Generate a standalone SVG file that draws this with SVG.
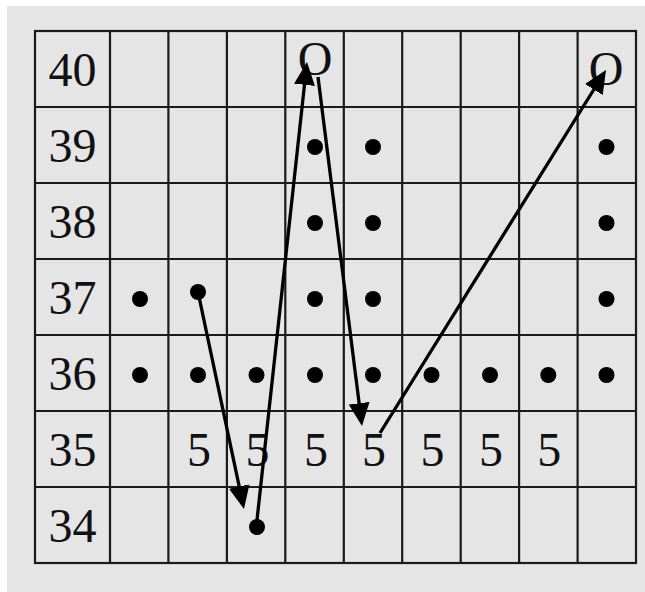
<svg xmlns="http://www.w3.org/2000/svg" width="645" height="592" viewBox="0 0 645 592">
<style>
.grid{stroke:#1a1a1a;stroke-width:2.2;fill:none}
.t{font-family:"Liberation Serif","Times New Roman",serif;font-size:48px;fill:#111;text-anchor:middle}
.dot{fill:#000}
.arr{stroke:#000;stroke-width:3.3;fill:none;marker-end:url(#ah)}
</style>
<defs>
<marker id="ah" markerUnits="userSpaceOnUse" viewBox="0 0 23 21" markerWidth="23" markerHeight="21" refX="13" refY="10.5" orient="auto">
<path d="M0,0 L23,10.5 L0,21 z" fill="#000"/>
</marker>
</defs>
<rect x="7" y="6" width="638" height="586" fill="#e5e5e5"/>
<g id="grid" class="grid">
<rect x="35" y="31" width="601" height="532"/>
<path d="M110,31V563 M168.4,31V563 M226.9,31V563 M285.3,31V563 M343.8,31V563 M402.2,31V563 M460.7,31V563 M519.1,31V563 M577.6,31V563"/>
<path d="M35,107H636 M35,183H636 M35,259H636 M35,335H636 M35,411H636 M35,487H636"/>
</g>
<g id="row-labels">
<text class="t" x="72.5" y="86">40</text>
<text class="t" x="72.5" y="162">39</text>
<text class="t" x="72.5" y="238">38</text>
<text class="t" x="72.5" y="314">37</text>
<text class="t" x="72.5" y="390">36</text>
<text class="t" x="72.5" y="466">35</text>
<text class="t" x="72.5" y="542">34</text>
</g>
<g id="row40">
<text class="t" x="315" y="75">O</text>
<text class="t" x="606" y="85">O</text>
</g>
<g id="row39">
<circle class="dot" cx="315" cy="147" r="8"/>
<circle class="dot" cx="373" cy="147" r="8"/>
<circle class="dot" cx="606.5" cy="147" r="8"/>
</g>
<g id="row38">
<circle class="dot" cx="315" cy="223" r="8"/>
<circle class="dot" cx="373" cy="223" r="8"/>
<circle class="dot" cx="606.5" cy="223" r="8"/>
</g>
<g id="row37">
<circle class="dot" cx="140" cy="299" r="8"/>
<circle class="dot" cx="198" cy="292" r="8"/>
<circle class="dot" cx="315" cy="299" r="8"/>
<circle class="dot" cx="373" cy="299" r="8"/>
<circle class="dot" cx="606.5" cy="299" r="8"/>
</g>
<g id="row36">
<circle class="dot" cx="140" cy="375" r="8"/>
<circle class="dot" cx="198" cy="375" r="8"/>
<circle class="dot" cx="256.5" cy="375" r="8"/>
<circle class="dot" cx="315" cy="375" r="8"/>
<circle class="dot" cx="373" cy="375" r="8"/>
<circle class="dot" cx="431.5" cy="375" r="8"/>
<circle class="dot" cx="490" cy="375" r="8"/>
<circle class="dot" cx="548.3" cy="375" r="8"/>
<circle class="dot" cx="606.5" cy="375" r="8"/>
</g>
<g id="row35">
<text class="t" x="199" y="466">5</text>
<text class="t" x="257.5" y="466">5</text>
<text class="t" x="316" y="466">5</text>
<text class="t" x="374" y="466">5</text>
<text class="t" x="432.5" y="466">5</text>
<text class="t" x="491" y="466">5</text>
<text class="t" x="549.3" y="466">5</text>
</g>
<g id="row34">
<circle class="dot" cx="257" cy="527" r="8"/>
</g>
<g id="connectors">
<line class="arr" x1="198" y1="292" x2="241.9" y2="499.2"/>
<line class="arr" x1="257" y1="520" x2="305.9" y2="71.9"/>
<line class="arr" x1="318" y1="77" x2="360.75" y2="416.1"/>
<line class="arr" x1="380" y1="433" x2="600.7" y2="78.5"/>
</g>
</svg>
